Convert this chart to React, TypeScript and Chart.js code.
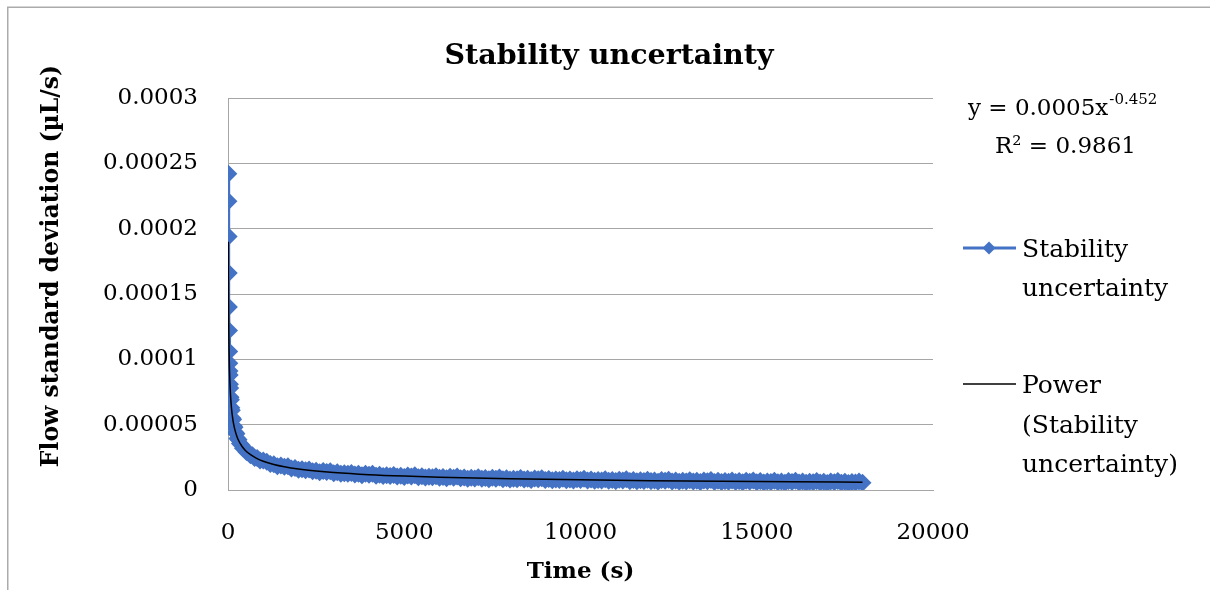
import React, { useEffect, useRef } from "react";
import { Chart, registerables } from "chart.js";

Chart.register(...registerables);

const chartTitle = "Stability uncertainty";
const xAxisTitle = "Time (s)";
const yAxisTitle = "Flow standard deviation (µL/s)";
const seriesName = "Stability uncertainty";
const trendName = "Power (Stability uncertainty)";
const seriesLegendLines = ["Stability", "uncertainty"];
const trendLegendLines = ["Power", "(Stability", "uncertainty)"];
const equationMain = "y = 0.0005x";
const equationExp = "-0.452";
const rSquaredText = "R² = 0.9861";

const xTicks = [0, 5000, 10000, 15000, 20000];
const xTickLabels = ["0", "5000", "10000", "15000", "20000"];
const yTicks = [0, 0.00005, 0.0001, 0.00015, 0.0002, 0.00025, 0.0003];
const yTickLabels = ["0", "0.00005", "0.0001", "0.00015", "0.0002", "0.00025", "0.0003"];

// measured series: time (s)
const timeSeconds = [
  9, 13, 17, 21, 25, 29, 33, 38, 42, 48, 55, 63, 73, 83, 94, 109, 127, 143, 163, 187,
  211, 240, 267, 299, 337, 383, 423, 469, 524, 588, 637, 693, 755, 827, 909, 1000,
  1100, 1200, 1300, 1400, 1500, 1600, 1700, 1800, 1900, 2000,
  2100, 2200, 2300, 2400, 2500, 2600, 2700, 2800, 2900, 3000,
  3100, 3200, 3300, 3400, 3500, 3600, 3700, 3800, 3900, 4000,
  4100, 4200, 4300, 4400, 4500, 4600, 4700, 4800, 4900, 5000,
  5100, 5200, 5300, 5400, 5500, 5600, 5700, 5800, 5900, 6000,
  6100, 6200, 6300, 6400, 6500, 6600, 6700, 6800, 6900, 7000,
  7100, 7200, 7300, 7400, 7500, 7600, 7700, 7800, 7900, 8000,
  8100, 8200, 8300, 8400, 8500, 8600, 8700, 8800, 8900, 9000,
  9100, 9200, 9300, 9400, 9500, 9600, 9700, 9800, 9900, 10000,
  10100, 10200, 10300, 10400, 10500, 10600, 10700, 10800, 10900, 11000,
  11100, 11200, 11300, 11400, 11500, 11600, 11700, 11800, 11900, 12000,
  12100, 12200, 12300, 12400, 12500, 12600, 12700, 12800, 12900, 13000,
  13100, 13200, 13300, 13400, 13500, 13600, 13700, 13800, 13900, 14000,
  14100, 14200, 14300, 14400, 14500, 14600, 14700, 14800, 14900, 15000,
  15100, 15200, 15300, 15400, 15500, 15600, 15700, 15800, 15900, 16000,
  16100, 16200, 16300, 16400, 16500, 16600, 16700, 16800, 16900, 17000,
  17100, 17200, 17300, 17400, 17500, 17600, 17700, 17800, 17900, 18000,
];

// measured series: flow standard deviation (µL/s)
const stdevValues = [
  242e-6, 221e-6, 194e-6, 166e-6, 140e-6, 122e-6, 106e-6, 97e-6, 91e-6, 88e-6,
  81e-6, 78e-6, 71e-6, 69e-6, 63e-6, 61e-6, 55e-6, 54e-6, 49e-6, 48e-6,
  44e-6, 43e-6, 39.5e-6, 38.5e-6, 35.5e-6, 34.5e-6, 32e-6, 31.5e-6, 29e-6, 28.5e-6,
  26.5e-6, 26.5e-6, 24.5e-6, 24.5e-6, 22.5e-6, 22.5e-6,
  21.7e-6, 19.9e-6, 19.8e-6, 18.2e-6, 18.8e-6, 17.7e-6, 18.1e-6, 16.4e-6, 16.8e-6, 15.5e-6,
  15.8e-6, 15.1e-6, 15.7e-6, 14.4e-6, 14.8e-6, 13.6e-6, 14.6e-6, 13.7e-6, 14.4e-6, 12.9e-6,
  13.5e-6, 12.4e-6, 12.9e-6, 12.4e-6, 13.1e-6, 11.9e-6, 12.4e-6, 11.3e-6, 12.4e-6, 11.7e-6,
  12.4e-6, 11.0e-6, 11.7e-6, 10.7e-6, 11.3e-6, 10.8e-6, 11.5e-6, 10.4e-6, 10.9e-6, 9.9e-6,
  11.1e-6, 10.4e-6, 11.2e-6, 9.8e-6, 10.5e-6, 9.5e-6, 10.1e-6, 9.7e-6, 10.5e-6, 9.4e-6,
  9.9e-6, 9.0e-6, 10.1e-6, 9.4e-6, 10.3e-6, 8.9e-6, 9.6e-6, 8.7e-6, 9.3e-6, 8.8e-6,
  9.7e-6, 8.6e-6, 9.2e-6, 8.2e-6, 9.4e-6, 8.7e-6, 9.6e-6, 8.2e-6, 9.0e-6, 8.0e-6,
  8.7e-6, 8.2e-6, 9.1e-6, 8.0e-6, 8.6e-6, 7.6e-6, 8.8e-6, 8.2e-6, 9.0e-6, 7.7e-6,
  8.4e-6, 7.5e-6, 8.1e-6, 7.7e-6, 8.6e-6, 7.5e-6, 8.1e-6, 7.2e-6, 8.3e-6, 7.7e-6,
  8.6e-6, 7.2e-6, 8.0e-6, 7.0e-6, 7.7e-6, 7.3e-6, 8.2e-6, 7.1e-6, 7.7e-6, 6.8e-6,
  7.9e-6, 7.3e-6, 8.2e-6, 6.8e-6, 7.6e-6, 6.7e-6, 7.4e-6, 6.9e-6, 7.8e-6, 6.8e-6,
  7.3e-6, 6.4e-6, 7.6e-6, 7.0e-6, 7.8e-6, 6.5e-6, 7.3e-6, 6.4e-6, 7.0e-6, 6.6e-6,
  7.5e-6, 6.5e-6, 7.0e-6, 6.1e-6, 7.3e-6, 6.7e-6, 7.6e-6, 6.2e-6, 7.0e-6, 6.1e-6,
  6.8e-6, 6.3e-6, 7.2e-6, 6.2e-6, 6.8e-6, 5.9e-6, 7.0e-6, 6.4e-6, 7.3e-6, 6.0e-6,
  6.8e-6, 5.8e-6, 6.5e-6, 6.1e-6, 7.0e-6, 6.0e-6, 6.5e-6, 5.6e-6, 6.8e-6, 6.2e-6,
  7.1e-6, 5.8e-6, 6.5e-6, 5.6e-6, 6.3e-6, 5.9e-6, 6.8e-6, 5.8e-6, 6.3e-6, 5.4e-6,
  6.6e-6, 6.0e-6, 6.9e-6, 5.6e-6, 6.3e-6, 5.4e-6, 6.1e-6, 5.7e-6, 6.6e-6, 5.6e-6,
];

// power trendline
const trendTimes = [
  8.5, 10, 12, 15, 20, 25, 30, 40, 50, 60, 80, 100, 130, 160, 200, 250, 300, 400, 500,
  650, 800, 1000, 1300, 1600, 2000, 2500, 3000, 4000, 5000, 6000, 7000, 8000, 10000,
  12000, 14000, 16000, 18000,
];
const trendValues = [
  190.0e-6, 176.6e-6, 162.7e-6, 147.0e-6, 129.1e-6, 116.7e-6, 107.5e-6, 94.4e-6, 85.3e-6,
  78.6e-6, 69.0e-6, 62.4e-6, 55.4e-6, 50.4e-6, 45.6e-6, 41.2e-6, 37.9e-6, 33.3e-6, 30.1e-6,
  26.8e-6, 24.4e-6, 22.0e-6, 19.55e-6, 17.8e-6, 16.09e-6, 14.55e-6, 13.4e-6, 11.76e-6,
  10.64e-6, 9.8e-6, 9.14e-6, 8.6e-6, 7.78e-6, 7.17e-6, 6.68e-6, 6.29e-6, 5.96e-6,
];

const FONT = "'DejaVu Serif', serif";
const BLUE = "#4472C4";
const GRID = "#a6a6a6";

const decorPlugin = {
  id: "decor",
  afterDraw(chart: any) {
    const ctx: CanvasRenderingContext2D = chart.ctx;
    ctx.save();
    // outer frame
    ctx.strokeStyle = "#ababab";
    ctx.lineWidth = 1.5;
    ctx.beginPath();
    ctx.moveTo(7.75, 590);
    ctx.lineTo(7.75, 7.25);
    ctx.lineTo(1210, 7.25);
    ctx.stroke();

    ctx.fillStyle = "#000";
    ctx.textBaseline = "alphabetic";

    // title
    ctx.font = `bold 28.5px ${FONT}`;
    ctx.textAlign = "center";
    ctx.fillText(chartTitle, 609, 64);

    // y axis title
    ctx.save();
    ctx.translate(58, 266);
    ctx.rotate(-Math.PI / 2);
    ctx.font = `bold 23.5px ${FONT}`;
    ctx.textAlign = "center";
    ctx.fillText(yAxisTitle, 0, 0);
    ctx.restore();

    // equation
    ctx.textAlign = "left";
    ctx.font = `23px ${FONT}`;
    ctx.fillText(equationMain, 968, 115);
    const w = ctx.measureText(equationMain).width;
    ctx.font = `15px ${FONT}`;
    ctx.fillText(equationExp, 968 + w + 1, 104);
    ctx.font = `23px ${FONT}`;
    ctx.fillText(rSquaredText, 995, 153);

    // legend: series
    ctx.strokeStyle = BLUE;
    ctx.lineWidth = 3;
    ctx.beginPath();
    ctx.moveTo(963, 248);
    ctx.lineTo(1016, 248);
    ctx.stroke();
    ctx.fillStyle = BLUE;
    ctx.beginPath();
    ctx.moveTo(989, 241.5);
    ctx.lineTo(995.5, 248);
    ctx.lineTo(989, 254.5);
    ctx.lineTo(982.5, 248);
    ctx.closePath();
    ctx.fill();
    ctx.fillStyle = "#000";
    ctx.font = `25px ${FONT}`;
    ctx.fillText(seriesLegendLines[0], 1022, 257);
    ctx.fillText(seriesLegendLines[1], 1022, 296);

    // legend: trendline
    ctx.strokeStyle = "#000";
    ctx.lineWidth = 1.5;
    ctx.beginPath();
    ctx.moveTo(963, 384);
    ctx.lineTo(1016, 384);
    ctx.stroke();
    ctx.fillText(trendLegendLines[0], 1022, 393);
    ctx.fillText(trendLegendLines[1], 1022, 433);
    ctx.fillText(trendLegendLines[2], 1022, 472);
    ctx.restore();
  },
};

export default function App() {
  const ref = useRef<HTMLCanvasElement | null>(null);

  useEffect(() => {
    if (!ref.current) return;
    const chart = new Chart(ref.current, {
      type: "line",
      data: {
        datasets: [
          {
            label: seriesName,
            data: timeSeconds.map((t, i) => ({ x: t, y: stdevValues[i] })),
            borderColor: BLUE,
            backgroundColor: BLUE,
            borderWidth: 3,
            pointStyle: "rectRot",
            pointRadius: 9,
            pointBorderWidth: 0,
            pointBackgroundColor: BLUE,
            order: 1,
          },
          {
            label: trendName,
            data: trendTimes.map((t, i) => ({ x: t, y: trendValues[i] })),
            borderColor: "#000",
            borderWidth: 1.5,
            pointRadius: 0,
            cubicInterpolationMode: "monotone",
            order: 0,
          },
        ],
      },
      options: {
        animation: false,
        responsive: false,
        maintainAspectRatio: false,
        devicePixelRatio: 1,
        layout: { padding: { left: 0, top: 98, right: 277, bottom: 0 } },
        plugins: {
          legend: { display: false },
          title: { display: false },
          tooltip: { enabled: false },
        },
        scales: {
          x: {
            type: "linear",
            min: 0,
            max: 20000,
            afterBuildTicks: (scale: any) => {
              scale.ticks = xTicks.map((v) => ({ value: v }));
            },
            afterFit: (scale: any) => {
              scale.height = 100;
            },
            grid: { display: false, drawTicks: false },
            border: { display: true, color: GRID, width: 1 },
            ticks: {
              padding: 29,
              color: "#000",
              font: { family: FONT, size: 23 },
              maxRotation: 0,
              callback: (_v: any, i: number) => xTickLabels[i],
            },
            title: {
              display: true,
              text: xAxisTitle,
              color: "#000",
              font: { family: FONT, size: 23, weight: "bold" },
              padding: { top: 0, bottom: 4 },
            },
          },
          y: {
            type: "linear",
            min: 0,
            max: 0.0003,
            afterBuildTicks: (scale: any) => {
              scale.ticks = yTicks.map((v) => ({ value: v }));
            },
            afterFit: (scale: any) => {
              scale.width = 228;
            },
            grid: { color: GRID, lineWidth: 1, drawTicks: false },
            border: { display: true, color: GRID, width: 1 },
            ticks: {
              padding: 30,
              color: "#000",
              font: { family: FONT, size: 23 },
              callback: (_v: any, i: number) => yTickLabels[i],
            },
          },
        },
      },
      plugins: [decorPlugin],
    });
    return () => chart.destroy();
  }, []);

  return (
    <canvas
      ref={ref}
      width={1210}
      height={590}
      style={{ position: "fixed", left: 0, top: 0, width: 1210, height: 590, background: "#fff" }}
    />
  );
}
